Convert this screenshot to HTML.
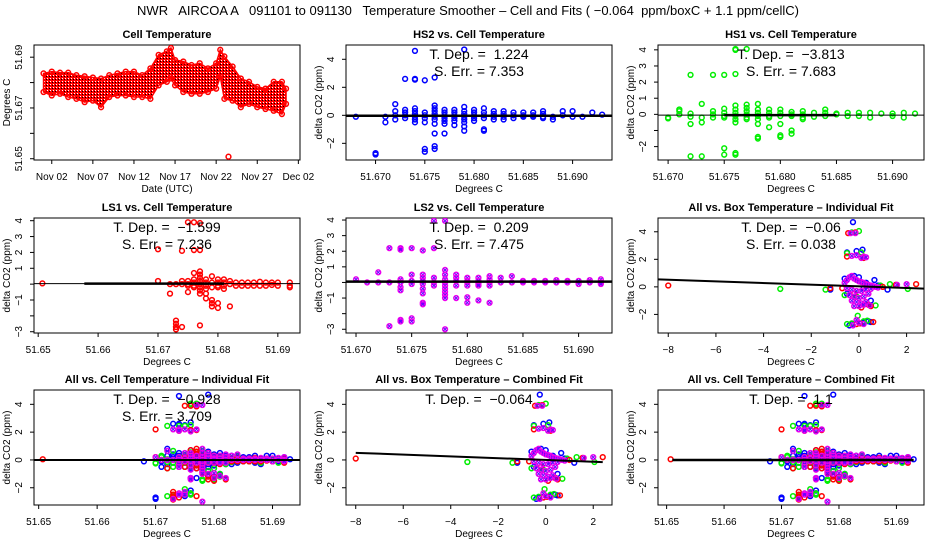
<!DOCTYPE html>
<html><head><meta charset="utf-8"><style>
html,body{margin:0;padding:0;background:#fff}
svg{display:block;font-family:"Liberation Sans",sans-serif}
text{white-space:pre}
</style></head><body>
<svg id="chart" width="936" height="540" viewBox="0 0 936 540" xmlns="http://www.w3.org/2000/svg">
<defs>
<pattern id="redpat" width="3" height="3" patternUnits="userSpaceOnUse">
<rect width="3" height="3" fill="#f00"/><rect x="1" y="1" width="1" height="1" fill="#000"/><rect x="2" y="0" width="1" height="1" fill="#fff"/>
</pattern>
</defs>
<text x="468" y="15" text-anchor="middle" font-size="13">NWR   AIRCOA A   091101 to 091130   Temperature Smoother – Cell and Fits ( −0.064  ppm/boxC + 1.1 ppm/cellC)</text>
</svg>
<script>
// ---- Cell temperature time series (day of November) ----
const tsDays = [1,2,3,4,5,6,7,8,9,10,11,12,13,14,15,16,16.5,17,18,19,20,21,22,22.5,23,24,25,26,27,28,29,30,30.5];
const tsHi = [51.6836,51.6843,51.6839,51.6839,51.6829,51.6825,51.6820,51.6816,51.6829,51.6836,51.6843,51.6843,51.6829,51.6856,51.6909,51.6923,51.6936,51.6889,51.6883,51.6869,51.6876,51.6856,51.6876,51.6929,51.6903,51.6863,51.6816,51.6803,51.6783,51.6776,51.6803,51.6803,51.6776];
const tsLo = [51.6763,51.6749,51.6756,51.6743,51.6736,51.6723,51.6729,51.6703,51.6743,51.6749,51.6749,51.6743,51.6743,51.6736,51.6789,51.6803,51.6816,51.6789,51.6763,51.6756,51.6756,51.6763,51.6776,51.6823,51.6736,51.6729,51.6703,51.6716,51.6703,51.6696,51.6689,51.6676,51.6716];
const tsOutlierDay = [23.5];
const tsOutlierVal = [51.6508];
const dateTicks = [2,7,12,17,22,27,32];
const dateLabels = ["Nov 02","Nov 07","Nov 12","Nov 17","Nov 22","Nov 27","Dec 02"];

// ---- HS2 (blue) vs cell temperature ----
const hs2Temp = [51.668,51.670,51.671,51.672,51.673,51.674,51.675,51.676,51.677,51.678,51.679,51.680,51.681,51.682,51.683,51.684,51.685,51.686,51.687,51.688,51.689,51.690,51.691,51.692,51.693];
const hs2Vals = [[-0.1],[-2.8,-2.7],[-0.1,-0.5],[0.8,0.3,0,-0.3],[2.6,0.4,0.2,0,-0.2],[4.6,2.6,2.55,0.5,0.3,0.1,-0.1,-0.3,-0.5],[2.5,0.2,0,-0.2,-0.5,-2.4,-2.6],[2.7,0.7,0.5,0.3,0.1,-0.1,-0.3,-0.6,-1.3,-2.2,-2.4],[0.4,0.2,0,-0.2,-0.4,-0.6,-1.3],[0.4,0.2,0,-0.2,-0.4,-0.7],[4.7,0.6,0.3,0.1,-0.1,-0.3,-0.5,-0.8,-1.1],[0.4,0.2,0,-0.2,-0.4],[0.5,0.2,0,-0.2,-1.0,-1.1],[0.3,0.1,-0.1,-0.3],[0.3,0.1,-0.1,-0.3],[0.2,0,-0.2],[0.2,0,-0.1],[0.2,0,-0.1],[0.3,0.1,-0.1,-0.2],[-0.1,-0.3],[0.3,0],[0.3,-0.1],[-0.1],[0.2],[0.05]];
// ---- HS1 (green) ----
const hs1Temp = [51.670,51.671,51.672,51.673,51.674,51.675,51.676,51.677,51.678,51.679,51.680,51.681,51.682,51.683,51.684,51.685,51.686,51.687,51.688,51.689,51.690,51.691,51.692];
const hs1Vals = [[-0.2,-0.25],[0.3,0.2,0],[2.45,0.05,-0.15,-0.6,-2.6],[0.65,-0.2,-0.5,-2.6],[2.45,0.2,0,-0.2],[2.45,0.35,0.1,-0.1,-0.2,-2.1,-2.5],[4.0,4.05,2.5,0.55,0.3,0.1,-0.1,-0.3,-0.5,-2.4,-2.5],[4.05,0.6,0.4,0.2,0,-0.2,-0.3],[0.65,0.3,0.1,-0.1,-0.3,-0.6,-1.4,-1.5],[0.3,0.1,-0.1,-0.2,-0.8],[0.3,0.1,-0.1,-0.6,-1.3,-1.4],[0.15,0,-0.1,-1.0,-1.2],[0.2,0,-0.2,-0.3],[0.1,-0.15],[0.3,0.1,-0.1],[0.05,0],[0.1,-0.1],[0.1,-0.1],[0.1,-0.2],[0.05],[0.05,-0.1],[0.1,-0.2],[0.05]];
// ---- LS1 (red) ----
const ls1Temp = [51.6507,51.670,51.672,51.673,51.674,51.675,51.676,51.677,51.678,51.679,51.680,51.681,51.682,51.683,51.684,51.685,51.686,51.687,51.688,51.689,51.690,51.692];
const ls1Vals = [[0.05],[2.2,0.2],[0,-0.6],[0,-2.3,-2.5,-2.7,-2.85],[2.1,0.2,0,-2.7],[3.9,0.2,0,-0.1,-0.5],[3.9,2.15,0.7,0.3,0.1,-0.1,-0.2],[3.85,2.15,0.8,0.6,0.4,0.2,0,-0.2,-0.4,-0.6,-2.6],[0.3,0.1,-0.1,-0.3,-0.6,-0.9],[0.5,0.1,-0.2,-1.0,-1.2,-1.4],[0.3,0.1,-0.1,-0.2,-1.2,-1.5],[0.3,0.1,-0.1,-0.3],[0.2,0,-1.4],[0.1,-0.1],[0.1,-0.1],[0.1,-0.1],[0.1,-0.1],[0.15,-0.1],[0.1,-0.1],[0.1,-0.05],[0.1,-0.1],[0.1,-0.1,-0.2]];
// ---- LS2 (magenta) ----
const ls2Temp = [51.670,51.671,51.672,51.673,51.674,51.675,51.676,51.677,51.678,51.679,51.680,51.681,51.682,51.683,51.684,51.685,51.686,51.687,51.688,51.689,51.690,51.691,51.692];
const ls2Vals = [[0.2],[0],[0.65,0],[2.2,0,-2.8],[2.2,2.1,0.2,0,-0.3,-0.5,-2.4,-2.5],[2.2,0.5,0.1,-0.1,-2.3,-2.5],[2.05,0.5,0.3,0.1,-0.1,-0.4,-0.7,-1.3,-1.4],[3.95,2.2,0.3,0,-0.2],[3.95,0.8,0.5,0.2,0,-0.2,-0.4,-0.6,-0.8,-1.0,-3.0],[0.5,0.3,0.1,-0.2,-1.0],[0.3,0.1,0,-0.2,-0.95,-1.3],[0.3,0.1,-0.1,-0.2,-1.15],[0.4,0.2,0,-0.2,-1.3],[0.3,0],[0.4,0],[0.1,0],[0.1,0],[0.1,0],[0.15,0],[0.1,0],[0.1,-0.1],[0.15,0],[0.2,0,-0.1]];

// ---- Box temperature deviations ----
const boxBlueX = [-0.25,-0.5,-0.4,-0.1,0.15,0.2,-0.6,-0.2,0.0,0.3,0.65,0.5,0.5,1.2,-1.2,-0.3,0.4,0.2,-0.5,0.8];
const boxBlueY = [4.7,2.5,-2.8,2.6,2.7,-2.6,0.6,0.8,0.7,0.3,0.5,-1.0,-2.55,-0.2,-0.2,-2.7,-2.5,-0.1,-0.5,0.1];
const boxGreenX = [-3.3,-1.4,2.05,1.3,-0.5,-0.3,0.0,-0.05,0.1,-0.3,0.2,-0.6,0.7,-0.1,0.35,0.9,-0.5];
const boxGreenY = [-0.15,-0.2,-0.15,0.2,2.45,3.95,4.05,-2.1,2.5,-2.65,-2.5,-0.6,-1.35,-0.7,-2.45,0.1,-2.7];
const boxRedX = [-8,-1.2,2.4,1.55,-0.45,-0.15,-0.5,0.05,0.6,-0.7,0.1,0.4,-0.2,1.0,0.2,-0.1,0.5];
const boxRedY = [0.1,-0.1,0.2,0.15,3.9,3.95,2.2,-2.65,-2.55,-0.1,-1.5,-1.3,-0.5,0,2.1,-2.7,-1.4];
const boxMagX = [-0.6,-0.5,-0.4,-0.3,-0.2,-0.1,0,0.1,0.2,0.3,0.4,0.5,0.6,0.7,0.8,-0.5,-0.3,-0.1,0.1,0.3,0.5,-0.4,-0.2,0,0.2,0.4,-0.3,-0.1,0.1,0.3,-0.2,0,0.2,2.0,1.6,-0.35,-0.15,0.2,-0.1,0.1,0.3,-0.3,-0.25,-0.1,0.0,0.2,0.45];
const boxMagY = [0.3,0.5,0.7,0.8,0.6,0.5,0.4,0.35,0.3,0.2,0.15,0.1,0.05,0.0,-0.05,-0.1,-0.2,-0.3,-0.3,-0.2,-0.15,-0.6,-0.7,-0.8,-0.7,-0.5,-1.0,-1.1,-1.2,-1.1,-1.4,-1.4,-1.3,0.2,0.15,3.9,3.9,2.2,2.3,2.1,2.15,2.25,-2.8,-2.4,-2.6,-2.7,-1.35];

// ---- Fit results ----
const tDepLabels = ["1.224","−3.813","−1.599","0.209","−0.06","−0.928","−0.064","1.1"];
const sErrLabels = ["7.353","7.683","7.236","7.475","0.038","3.709"];
const boxFitSlopes = [-0.06,-0.064];
const boxFitIntercepts = [0.04,0.0];

const NS = 'http://www.w3.org/2000/svg';
const svg = document.getElementById('chart');
function mk(tag, parent){ const e = document.createElementNS(NS, tag); parent.appendChild(e); return e; }
function setA(e, obj){ for (const k in obj) e.setAttribute(k, obj[k]); return e; }

function panel(p){
  const g = mk('g', svg);
  
  
  const sx = v => p.x + (v - p.xlim[0]) / (p.xlim[1] - p.xlim[0]) * p.w;
  const sy = v => p.y + p.h - (v - p.ylim[0]) / (p.ylim[1] - p.ylim[0]) * p.h;
  const box = setA(mk('rect', g), {x:p.x, y:p.y, width:p.w, height:p.h, fill:'none', stroke:'#000', 'stroke-width':1});
  
  
  const t = setA(mk('text', g), {x:p.x + p.w/2, y:p.y - 7, 'text-anchor':'middle', 'font-size':11, 'font-weight':'bold'});
  t.textContent = p.title;
  
  
  // x axis
  const xa = mk('g', g);
  
  
  setA(mk('line', xa), {x1:sx(p.xticks[0]), x2:sx(p.xticks[p.xticks.length-1]), y1:p.y+p.h, y2:p.y+p.h, stroke:'#000'});
  p.xticks.forEach((v, i) => {
    setA(mk('line', xa), {x1:sx(v), x2:sx(v), y1:p.y+p.h, y2:p.y+p.h+4, stroke:'#000'});
    const lt = setA(mk('text', xa), {x:sx(v), y:p.y+p.h+20, 'text-anchor':'middle', 'font-size':10});
    lt.textContent = p.xlabels[i];
    
    
  });
  const xt = setA(mk('text', g), {x:p.x + p.w/2, y:p.y+p.h+32, 'text-anchor':'middle', 'font-size':10});
  xt.textContent = p.xlab;
  
  
  // y axis
  const ya = mk('g', g);
  
  
  setA(mk('line', ya), {x1:p.x, x2:p.x, y1:sy(p.yticks[0]), y2:sy(p.yticks[p.yticks.length-1]), stroke:'#000'});
  p.yticks.forEach((v) => {
    setA(mk('line', ya), {x1:p.x-4, x2:p.x, y1:sy(v), y2:sy(v), stroke:'#000'});
    const li = p.ylabelVals.indexOf(v);
    if (li >= 0) {
      const lt = setA(mk('text', ya), {x:0, y:0, 'text-anchor':'middle', 'font-size':10, transform:'translate(' + (p.x-12) + ',' + sy(v) + ') rotate(-90)'});
      lt.textContent = p.ylabelText[li];
      
      
    }
  });
  const yt = setA(mk('text', g), {x:0, y:0, 'text-anchor':'middle', 'font-size':10, transform:'translate(' + (p.x-24) + ',' + (p.y+p.h/2) + ') rotate(-90)'});
  yt.textContent = p.ylab;
  
  
  const clipId = 'clip' + p.x + '_' + p.y;
  const cp = setA(mk('clipPath', g), {id:clipId});
  setA(mk('rect', cp), {x:p.x, y:p.y, width:p.w, height:p.h});
  const plot = setA(mk('g', g), {'clip-path':'url(#' + clipId + ')'});
  
  
  return {g, plot, sx, sy, p};
}

const COL = {blue:'#0000ff', green:'#00ee00', red:'#ff0000', mag:'#ee00ee'};
function pt(P, x, y, color, isMag){
  const c = setA(mk('circle', P.plot), {cx:P.sx(x), cy:P.sy(y), r:2.4, fill:'none', stroke:color, 'stroke-width':1.5});
  
  
  if (isMag) {
    const X = P.sx(x), Y = P.sy(y);
    setA(mk('path', P.plot), {d:'M'+(X-1.6)+' '+(Y-1.6)+'L'+(X+1.6)+' '+(Y+1.6)+'M'+(X-1.6)+' '+(Y+1.6)+'L'+(X+1.6)+' '+(Y-1.6), stroke:'#6a00ff', 'stroke-width':1});
  }
}
function cols(P, temps, vals, color, isMag){
  temps.forEach((t, i) => vals[i].forEach(v => pt(P, t, v, color, isMag)));
}
function pairs(P, xs, ys, color, isMag){
  const n = Math.min(xs.length, ys.length);
  for (let i = 0; i < n; i++) pt(P, xs[i], ys[i], color, isMag);
}
function fitLine(P, x1, y1, x2, y2, w){
  const l = setA(mk('line', P.plot), {x1:P.sx(x1), y1:P.sy(y1), x2:P.sx(x2), y2:P.sy(y2), stroke:'#000', 'stroke-width':w});
  
  
}
function annot(P, lines){
  lines.forEach((s, i) => {
    const t = setA(mk('text', P.g), {x:P.p.x + P.p.w/2, y:P.p.y + 14 + 17*i, 'text-anchor':'middle', 'font-size':14});
    t.textContent = s;
    
    
  });
}

const dT = ['51.670','51.675','51.680','51.685','51.690'];
const dTv = [51.670,51.675,51.680,51.685,51.690];
const cT = ['51.65','51.66','51.67','51.68','51.69'];
const cTv = [51.65,51.66,51.67,51.68,51.69];
const bT = ['−8','−6','−4','−2','0','2'];
const bTv = [-8,-6,-4,-2,0,2];
const y4 = {yticks:[-2,0,2,4], ylabelVals:[-2,0,2,4], ylabelText:['−2','0','2','4']};
const YL = 'delta CO2 (ppm)', XL = 'Degrees C';

// Panel 1: cell temperature time series
const P1 = panel({name:'cell-temperature-panel', x:34, y:45, w:266, h:115, xlim:[-0.16,32.2], ylim:[51.6495,51.6948],
  xticks:dateTicks, xlabels:dateLabels, yticks:cTv, ylabelVals:[51.65,51.67,51.69], ylabelText:['51.65','51.67','51.69'],
  title:'Cell Temperature', xlab:'Date (UTC)', ylab:'Degrees C'});
(function(){
  let d = '';
  tsDays.forEach((v, i) => { d += (i ? 'L' : 'M') + P1.sx(v) + ' ' + P1.sy(tsHi[i]); });
  for (let i = tsDays.length - 1; i >= 0; i--) d += 'L' + P1.sx(tsDays[i]) + ' ' + P1.sy(tsLo[i]);
  const band = setA(mk('path', P1.plot), {d:d + 'Z', fill:'url(#redpat)', stroke:'#f00', 'stroke-width':1.5});
  
  
  tsDays.forEach((v, i) => { pt(P1, v, tsHi[i], COL.red); pt(P1, v, tsLo[i], COL.red); });
  tsOutlierDay.forEach((v, i) => pt(P1, v, tsOutlierVal[i], COL.red));
})();

// Panel 2: HS2
const P2 = panel(Object.assign({name:'hs2-panel', x:346, y:45, w:266, h:115, xlim:[51.667,51.694], ylim:[-3.19,5.02],
  xticks:dTv, xlabels:dT, title:'HS2 vs. Cell Temperature', xlab:XL, ylab:YL}, y4));
cols(P2, hs2Temp, hs2Vals, COL.blue);
fitLine(P2, 51.667, -0.03, 51.694, -0.03, 2.5);
annot(P2, ['T. Dep. =  ' + tDepLabels[0], 'S. Err. = ' + sErrLabels[0]]);

// Panel 3: HS1
const P3 = panel({name:'hs1-panel', x:658, y:45, w:266, h:115, xlim:[51.6691,51.6928], ylim:[-2.83,4.3],
  xticks:dTv, xlabels:dT, yticks:[-2,-1,0,1,2,3,4], ylabelVals:[-2,0,1,2,3,4], ylabelText:['−2','0','1','2','3','4'],
  title:'HS1 vs. Cell Temperature', xlab:XL, ylab:YL});
cols(P3, hs1Temp, hs1Vals, COL.green);
fitLine(P3, 51.6691, -0.05, 51.6928, -0.05, 1);
fitLine(P3, 51.675, -0.05, 51.685, -0.05, 2.5);
annot(P3, ['T. Dep. =  ' + tDepLabels[1], 'S. Err. = ' + sErrLabels[1]]);

// Panel 4: LS1
const P4 = panel({name:'ls1-panel', x:34, y:218, w:266, h:115, xlim:[51.6493,51.6937], ylim:[-3.08,4.17],
  xticks:cTv, xlabels:cT, yticks:[-3,-2,-1,0,1,2,3,4], ylabelVals:[-3,-1,1,2,3,4], ylabelText:['−3','−1','1','2','3','4'],
  title:'LS1 vs. Cell Temperature', xlab:XL, ylab:YL});
cols(P4, ls1Temp, ls1Vals, COL.red);
fitLine(P4, 51.6493, 0.03, 51.6937, 0.03, 1);
fitLine(P4, 51.6577, 0.03, 51.681, 0.03, 2.5);
annot(P4, ['T. Dep. =  ' + tDepLabels[2], 'S. Err. = ' + sErrLabels[2]]);

// Panel 5: LS2
const P5 = panel({name:'ls2-panel', x:346, y:218, w:266, h:115, xlim:[51.6691,51.6930], ylim:[-3.24,4.13],
  xticks:dTv, xlabels:dT, yticks:[-3,-2,-1,0,1,2,3,4], ylabelVals:[-3,-1,1,2,3,4], ylabelText:['−3','−1','1','2','3','4'],
  title:'LS2 vs. Cell Temperature', xlab:XL, ylab:YL});
cols(P5, ls2Temp, ls2Vals, COL.mag, true);
fitLine(P5, 51.6691, 0.05, 51.6930, 0.05, 2.5);
annot(P5, ['T. Dep. =  ' + tDepLabels[3], 'S. Err. = ' + sErrLabels[3]]);

function boxAll(P){
  pairs(P, boxBlueX, boxBlueY, COL.blue);
  pairs(P, boxGreenX, boxGreenY, COL.green);
  pairs(P, boxRedX, boxRedY, COL.red);
  pairs(P, boxMagX, boxMagY, COL.mag, true);
}
function cellAll(P){
  cols(P, hs2Temp, hs2Vals, COL.blue);
  cols(P, hs1Temp, hs1Vals, COL.green);
  cols(P, ls1Temp, ls1Vals, COL.red);
  cols(P, ls2Temp, ls2Vals, COL.mag, true);
}

// Panel 6: All vs box, individual
const P6 = panel(Object.assign({name:'all-box-individual-panel', x:658, y:218, w:266, h:115, xlim:[-8.43,2.73], ylim:[-3.35,5.0],
  xticks:bTv, xlabels:bT, title:'All vs. Box Temperature – Individual Fit', xlab:XL, ylab:YL}, y4));
boxAll(P6);
fitLine(P6, -8.43, boxFitIntercepts[0] + boxFitSlopes[0]*-8.43, 2.73, boxFitIntercepts[0] + boxFitSlopes[0]*2.73, 2);
annot(P6, ['T. Dep. =  ' + tDepLabels[4], 'S. Err. = ' + sErrLabels[4]]);

// Panel 7: All vs cell, individual
const P7 = panel(Object.assign({name:'all-cell-individual-panel', x:34, y:390, w:266, h:115, xlim:[51.6492,51.6947], ylim:[-3.24,5.03],
  xticks:cTv, xlabels:cT, title:'All vs. Cell Temperature – Individual Fit', xlab:XL, ylab:YL}, y4));
cellAll(P7);
fitLine(P7, 51.6492, 0, 51.6947, 0, 2);
annot(P7, ['T. Dep. =  ' + tDepLabels[5], 'S. Err. = ' + sErrLabels[5]]);

// Panel 8: All vs box, combined
const P8 = panel(Object.assign({name:'all-box-combined-panel', x:346, y:390, w:266, h:115, xlim:[-8.41,2.79], ylim:[-3.24,5.03],
  xticks:bTv, xlabels:bT, title:'All vs. Box Temperature – Combined Fit', xlab:XL, ylab:YL}, y4));
boxAll(P8);
fitLine(P8, -8, boxFitIntercepts[1] + boxFitSlopes[1]*-8, 2.4, boxFitIntercepts[1] + boxFitSlopes[1]*2.4, 2);
annot(P8, ['T. Dep. =  ' + tDepLabels[6]]);

// Panel 9: All vs cell, combined
const P9 = panel(Object.assign({name:'all-cell-combined-panel', x:658, y:390, w:266, h:115, xlim:[51.6485,51.6948], ylim:[-3.24,5.03],
  xticks:cTv, xlabels:cT, title:'All vs. Cell Temperature – Combined Fit', xlab:XL, ylab:YL}, y4));
cellAll(P9);
fitLine(P9, 51.651, 0, 51.693, 0, 2.5);
annot(P9, ['T. Dep. =  ' + tDepLabels[7]]);
</script>
</body></html>
